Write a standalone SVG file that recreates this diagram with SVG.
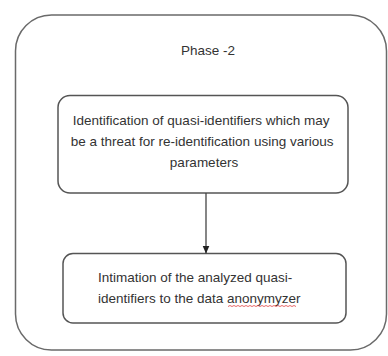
<svg xmlns="http://www.w3.org/2000/svg" width="388" height="356" viewBox="0 0 388 356">
  <defs>
    <marker id="arrow" viewBox="0 0 8 8" refX="8" refY="4" markerWidth="8" markerHeight="8" markerUnits="userSpaceOnUse" orient="auto">
      <path d="M0,0.5 L8,4 L0,7.5 Z" fill="#222"/>
    </marker>
  </defs>
  <style>
    .frame { fill: #ffffff; stroke: #6a6a6a; stroke-width: 1.5; }
    .box { fill: #ffffff; stroke: #555555; stroke-width: 1.5; }
    .label { font-family: "Liberation Sans", Arial, sans-serif; font-size: 13.5px; fill: #333333; }
    .conn { stroke: #444444; stroke-width: 1.3; fill: none; }
  </style>
  <rect x="0" y="0" width="388" height="356" fill="#ffffff"/>
  <g id="phase2">
    <rect class="frame" x="15.5" y="15" width="371" height="335" rx="36" ry="36"/>
    <text class="label" x="208" y="55" text-anchor="middle">Phase -2</text>
  </g>
  <g id="identification">
    <rect class="box" x="58" y="95.5" width="290" height="97.5" rx="12" ry="12"/>
    <text class="label" text-anchor="middle">
      <tspan x="203" y="125">Identification of quasi-identifiers which may</tspan>
      <tspan x="204" y="146">be a threat for re-identification using various</tspan>
      <tspan x="204" y="167">parameters</tspan>
    </text>
  </g>
  <g id="intimation">
    <rect class="box" x="63" y="253.5" width="283" height="69.5" rx="10" ry="10"/>
    <text class="label">
      <tspan x="98" y="282">Intimation of the analyzed quasi-</tspan>
      <tspan x="98" y="303">identifiers to the data anonymyzer</tspan>
    </text>
    <path d="M228,306.5 l2,-1 l2,1 l2,-1 l2,1 l2,-1 l2,1 l2,-1 l2,1 l2,-1 l2,1 l2,-1 l2,1 l2,-1 l2,1 l2,-1 l2,1 l2,-1 l2,1 l2,-1 l2,1 l2,-1 l2,1 l2,-1 l2,1 l2,-1 l2,1 l2,-1 l2,1 l2,-1 l2,1 l2,-1 l2,1 l2,-1 l2,1" fill="none" stroke="#e04040" stroke-width="0.8"/>
  </g>
  <g id="connectors">
    <line class="conn" x1="206" y1="193" x2="206" y2="253.5" marker-end="url(#arrow)"/>
  </g>
</svg>
